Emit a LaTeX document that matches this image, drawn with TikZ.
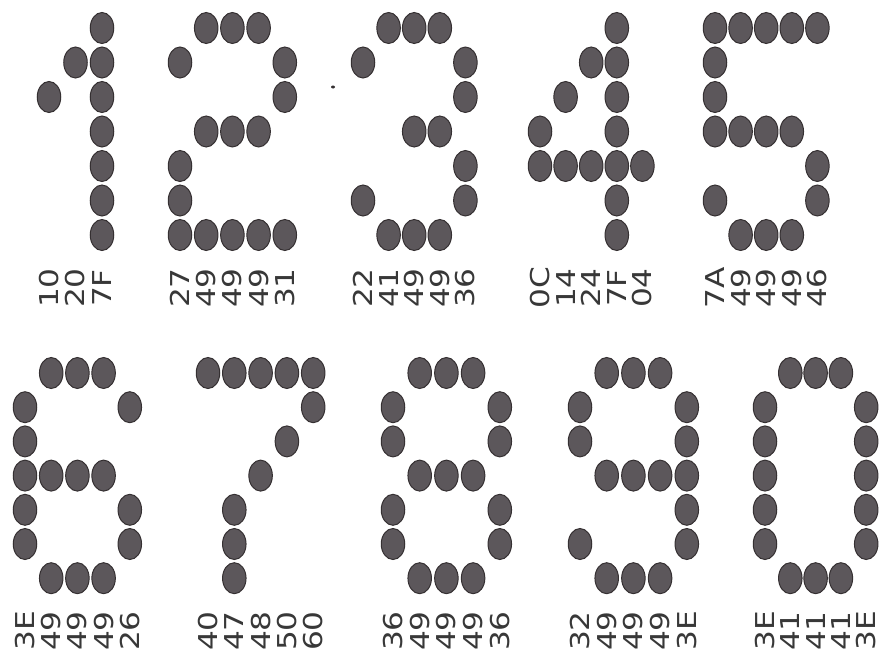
\documentclass[tikz,border=0pt]{standalone}
\usepackage{fontspec}
\usetikzlibrary{shapes.geometric}
\newfontfamily\codefont{DejaVu Sans}
\definecolor{dotfill}{HTML}{5C575B}
\definecolor{dotedge}{HTML}{353032}
\definecolor{ink}{HTML}{383838}
\tikzset{
  dotcell/.style={shape=ellipse, draw=dotedge, line width=1pt, fill=dotfill,
    minimum width=23.5pt, minimum height=31pt, inner sep=0pt},
  codelabel/.style={rotate=90, inner sep=0pt, text=ink,
    font=\codefont\fontsize{26}{26}\selectfont},
}
% #1 name, #2 x of column 0, #3 column pitch, #4 y of row 0, #5 row pitch, #6 label y, #7 codes
\newcommand\dotdigit[7]{%
  \foreach \cd [count=\ci from 0] in {#7} {
    \edef\hexv{\number"\cd}
    \foreach \rw in {0,...,6} {
      \pgfmathtruncatemacro\bitv{mod(floor(\hexv/2^(6-\rw)),2)}
      \ifnum\bitv=1
        \node[dotcell] (#1-\ci-\rw) at ({#2+\ci*#3},{#4+\rw*#5}) {};
      \fi
    }
    \node[codelabel] (#1-code-\ci) at ({#2+\ci*#3},#6) {\scalebox{1.2}[1]{\cd}};
  }
}
\begin{document}
\begin{tikzpicture}[x=1pt,y=-1pt]
\fill[white] (0,0) rectangle (881,653);
\useasboundingbox (0,0) rectangle (881,653);
% top row
\dotdigit{one}{49}{26.5}{28}{34.5}{288}{10,20,7F}
\dotdigit{two}{180}{26.2}{28}{34.5}{288}{27,49,49,49,31}
\dotdigit{three}{363}{25.6}{28}{34.5}{288}{22,41,49,49,36}
\dotdigit{four}{540}{25.6}{28}{34.5}{288}{0C,14,24,7F,04}
\dotdigit{five}{715}{25.6}{28}{34.5}{288}{7A,49,49,49,46}
% bottom row
\dotdigit{six}{25}{26.2}{373}{34.2}{631}{3E,49,49,49,26}
\dotdigit{seven}{208}{26.3}{373}{34.2}{631}{40,47,48,50,60}
\dotdigit{eight}{393}{26.7}{373}{34.2}{631}{36,49,49,49,36}
\dotdigit{nine}{580}{26.7}{373}{34.2}{631}{32,49,49,49,3E}
\dotdigit{zero}{765}{25.3}{373}{34.2}{631}{3E,41,41,41,3E}
% small speck of the scan
\fill[dotedge] (333,87) ellipse (2pt and 1.5pt);
\end{tikzpicture}
\end{document}
